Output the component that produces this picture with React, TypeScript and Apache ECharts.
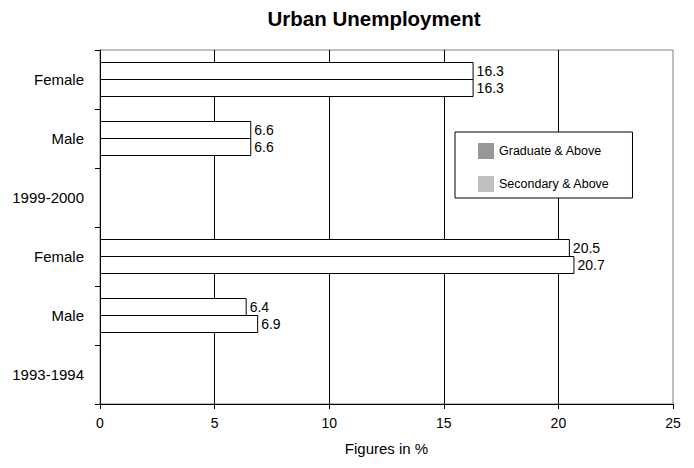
import React, { useEffect, useRef } from "react";
import * as echarts from "echarts";

const categories = ["1993-1994", "Male", "Female", "1999-2000", "Male", "Female"];
const graduateAbove = [null, 6.9, 20.7, null, 6.6, 16.3];
const secondaryAbove = [null, 6.4, 20.5, null, 6.6, 16.3];
const seriesNames = ["Graduate & Above", "Secondary & Above"];
const legendColors = ["#979797", "#c0c0c0"];
const xTicks = { min: 0, max: 25, interval: 5 };

const FONT = 'Arial, "Liberation Sans", sans-serif';

export default function App() {
  const ref = useRef<HTMLDivElement>(null);
  useEffect(() => {
    document.body.style.margin = "0";
    const chart = echarts.init(ref.current!, null, { renderer: "svg" });
    const barStyle = { color: "#ffffff", borderColor: "#000000", borderWidth: 1 };
    const label = {
      show: true,
      position: "right",
      distance: 3,
      color: "#000",
      fontSize: 14,
      fontFamily: FONT,
    };
    chart.setOption({
      animation: false,
      backgroundColor: "#ffffff",
      textStyle: { fontFamily: FONT },
      title: {
        text: "Urban Unemployment",
        left: 369,
        top: 3,
        textAlign: "center",
        textStyle: { fontSize: 20.5, fontWeight: "bold", color: "#000", fontFamily: FONT },
      },
      legend: {
        orient: "vertical",
        left: 455,
        top: 132,
        itemWidth: 16,
        itemHeight: 16,
        itemGap: 17,
        padding: [11, 23, 6, 23],
        borderColor: "#000",
        borderWidth: 1,
        backgroundColor: "#fff",
        textStyle: { fontSize: 12.5, color: "#000", fontFamily: FONT, padding: [0, 0, 9, 0] },
        data: [
          { name: seriesNames[0], icon: "rect", itemStyle: { color: legendColors[0], borderWidth: 0 } },
          { name: seriesNames[1], icon: "rect", itemStyle: { color: legendColors[1], borderWidth: 0 } },
        ],
      },
      grid: {
        left: 100,
        right: 21,
        top: 50,
        bottom: 64,
        show: true,
        borderColor: "#808080",
        borderWidth: 1,
        backgroundColor: "#fff",
      },
      xAxis: {
        type: "value",
        min: xTicks.min,
        max: xTicks.max,
        interval: xTicks.interval,
        name: "Figures in %",
        nameLocation: "middle",
        nameGap: 37,
        nameTextStyle: { fontSize: 15, color: "#000", fontFamily: FONT },
        axisLine: { show: true, lineStyle: { color: "#000", width: 1 } },
        axisTick: { show: true, length: 5, lineStyle: { color: "#000" } },
        axisLabel: { fontSize: 14, color: "#000", margin: 12, fontFamily: FONT },
        splitLine: { show: true, showMinLine: false, showMaxLine: false, lineStyle: { color: "#000", width: 1 } },
      },
      yAxis: {
        type: "category",
        data: categories,
        axisLine: { show: true, lineStyle: { color: "#000", width: 1 } },
        axisTick: { show: true, length: 5, alignWithLabel: false, lineStyle: { color: "#000" } },
        axisLabel: { fontSize: 15, color: "#000", margin: 16, fontFamily: FONT },
        splitLine: { show: false },
      },
      series: [
        {
          name: seriesNames[1],
          type: "bar",
          data: secondaryAbove,
          barWidth: 18,
          barGap: "-5.5556%",
          itemStyle: barStyle,
          label,
        },
        {
          name: seriesNames[0],
          type: "bar",
          data: graduateAbove,
          barWidth: 18,
          barGap: "-5.5556%",
          itemStyle: barStyle,
          label,
        },
      ],
    });
    return () => chart.dispose();
  }, []);
  return (
    <div
      ref={ref}
      style={{ width: 694, height: 468, position: "absolute", left: 0, top: 0 }}
    />
  );
}
